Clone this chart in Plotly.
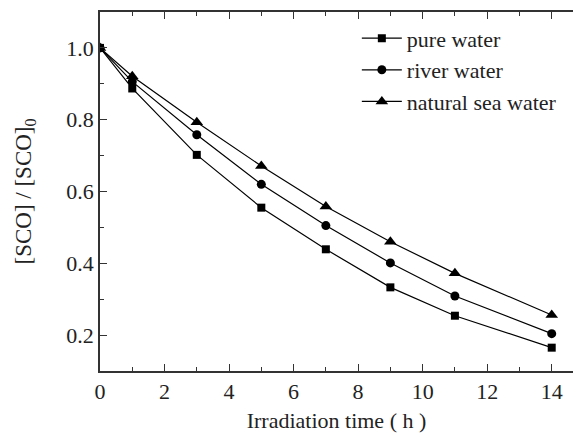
import plotly.graph_objects as go

time_h = [0, 1, 3, 5, 7, 9, 11, 14]
pure_water = [1.0, 0.887, 0.702, 0.555, 0.439, 0.333, 0.254, 0.165]
river_water = [1.0, 0.906, 0.758, 0.620, 0.505, 0.401, 0.309, 0.204]
sea_water = [1.0, 0.921, 0.793, 0.671, 0.558, 0.460, 0.372, 0.256]

names = ["pure water", "river water", "natural sea water"]
series = [pure_water, river_water, sea_water]
symbols = ["square", "circle", "triangle-up"]
sizes = [8, 9, 11]

FONT = "Liberation Serif"

fig = go.Figure()
for n, s, sym, sz in zip(names, series, symbols, sizes):
    fig.add_trace(go.Scatter(
        x=time_h, y=s, name=n, mode="lines+markers",
        line=dict(color="black", width=1.2),
        marker=dict(symbol=sym, size=sz, color="black"),
    ))

fig.update_layout(
    width=573, height=433,
    margin=dict(l=100, r=0, t=12, b=62),
    paper_bgcolor="white", plot_bgcolor="white",
    font=dict(family=FONT, size=22, color="#222"),
    showlegend=True,
    legend=dict(x=0.543, y=0.985, xanchor="left", yanchor="top",
                bgcolor="rgba(0,0,0,0)", font=dict(size=22, family=FONT),
                tracegroupgap=0, itemwidth=40),
    xaxis=dict(
        range=[0, 14.66], tickvals=[0, 2, 4, 6, 8, 10, 12, 14],
        showline=True, linecolor="#333", linewidth=1.5, mirror="ticks",
        ticks="inside", ticklen=7, tickwidth=1.2, tickcolor="#333",
        minor=dict(dtick=1, tick0=0, ticks="inside", ticklen=4, tickwidth=1.2, tickcolor="#333"),
        showgrid=False, zeroline=False,
        title=dict(text="Irradiation time ( h )", font=dict(size=22, family=FONT), standoff=13),
        tickfont=dict(size=22, family=FONT),
    ),
    yaxis=dict(
        range=[0.1, 1.1], tickvals=[0.2, 0.4, 0.6, 0.8, 1.0], tickformat=".1f",
        showline=True, linecolor="#333", linewidth=1.5, mirror=False,
        ticks="inside", ticklen=7, tickwidth=1.2, tickcolor="#333",
        minor=dict(dtick=0.1, tick0=0.1, ticks="inside", ticklen=4, tickwidth=1.2, tickcolor="#333"),
        showgrid=False, zeroline=False,
        title=dict(text="[SCO] / [SCO]<sub>0</sub>", font=dict(size=23, family=FONT), standoff=28),
        tickfont=dict(size=22, family=FONT),
    ),
)

fig.write_html("out.html")
